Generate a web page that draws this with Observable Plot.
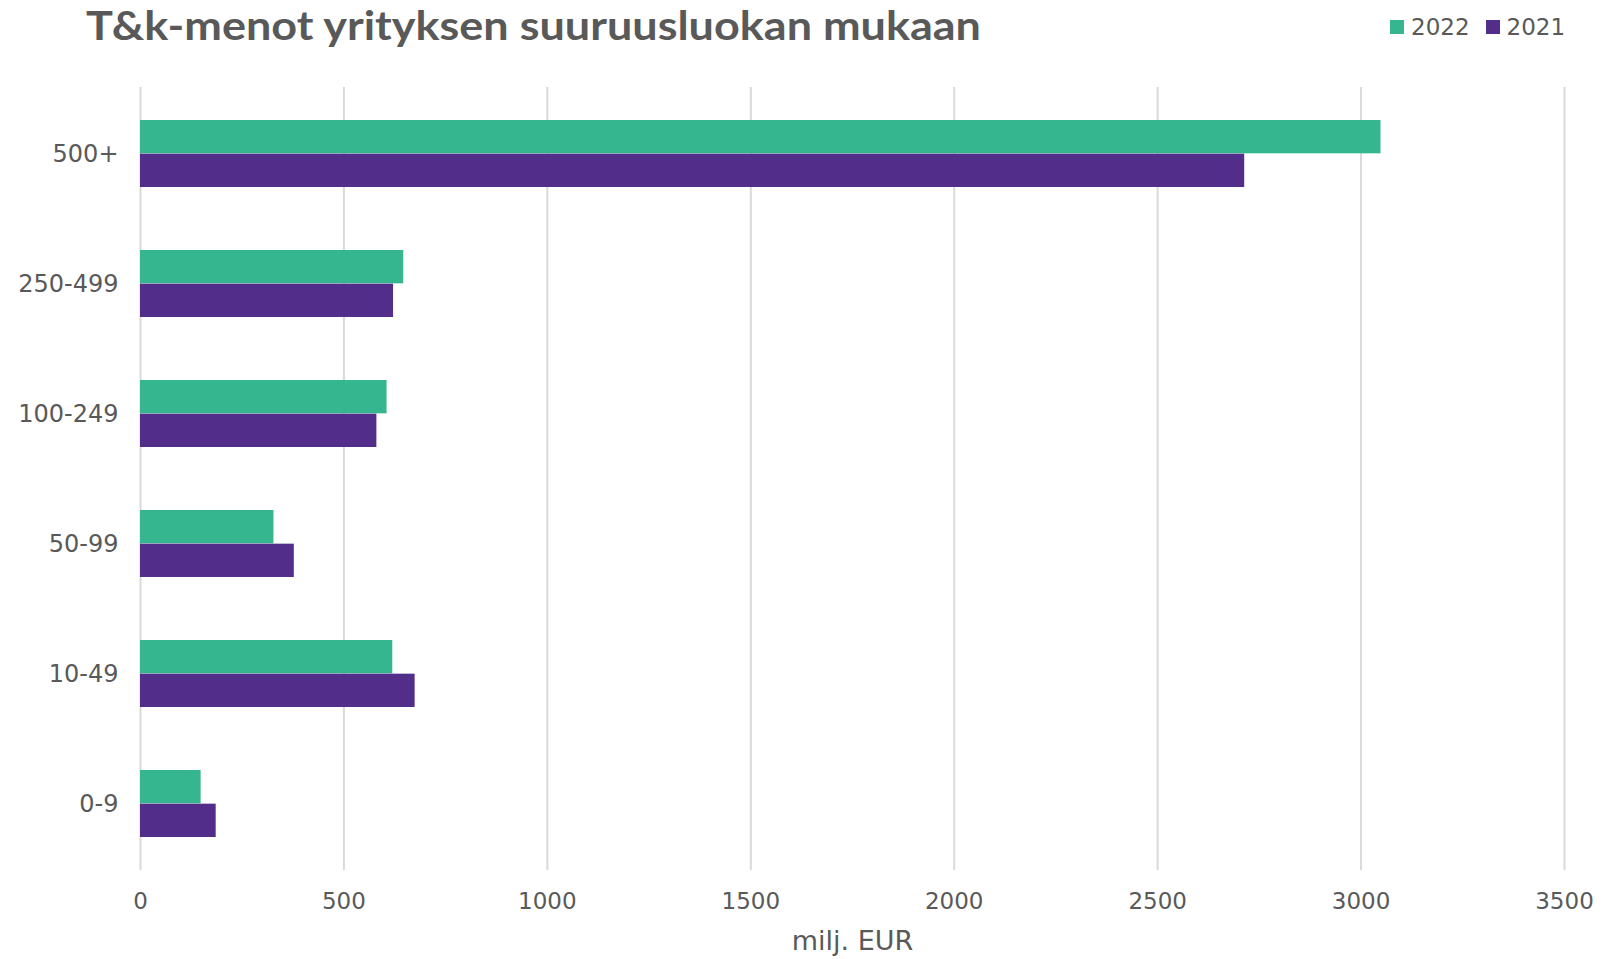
<!DOCTYPE html>
<html>
<head>
<meta charset="utf-8">
<script src="https://cdn.jsdelivr.net/npm/d3@7"></script>
<script src="https://cdn.jsdelivr.net/npm/@observablehq/plot@0.6"></script>
<style>
  html, body { margin: 0; padding: 0; background: #ffffff; }
  #wrap { width: 1602px; height: 959px; position: relative; overflow: hidden; }
  #header { width: 1602px; height: 60px; position: relative; }
  #legend { position: absolute; left: 1390px; top: 13px; display: flex; align-items: center;
            font-family: "DejaVu Sans", Verdana, sans-serif; font-size: 23px; color: #595959; line-height: 28px; }
  #legend .item { display: flex; align-items: center; margin-right: 16px; }
  #legend .sw { width: 14px; height: 14px; margin-right: 7px; display: inline-block; }
  #chart svg g[aria-label="y-axis tick label"] { font-size: 24px; }
  #chart svg g[aria-label="x-axis label"] { font-size: 27px; }
</style>
</head>
<body>
<div id="wrap">
  <div id="header">
    <svg id="titlesvg" width="1602" height="60" style="position:absolute;left:0;top:0">
      <text id="title" x="86" y="39.5" fill="#595959" font-family="Lato, 'Open Sans', sans-serif" font-weight="bold" font-size="40"
            textLength="895" lengthAdjust="spacingAndGlyphs">T&amp;k-menot yrityksen suuruusluokan mukaan</text>
    </svg>
    <div id="legend"></div>
  </div>
  <div id="chart"></div>
</div>
<script>
const categories = ["500+", "250-499", "100-249", "50-99", "10-49", "0-9"];
const years = ["2022", "2021"];
const values2022 = [3049, 647, 606, 328, 620, 149];
const values2021 = [2714, 622, 581, 378, 675, 186];
const xTicks = [0, 500, 1000, 1500, 2000, 2500, 3000, 3500];
const colors = ["#36b68f", "#532d8a"];

const rows2022 = categories.map((c, i) => ({category: c, year: years[0], value: values2022[i]}));
const rows2021 = categories.map((c, i) => ({category: c, year: years[1], value: values2021[i]}));

const H = 899, MT = 27, MB = 89;
const paddingInner = 0.484;
const step = (H - MT - MB) / categories.length;
const half = step * (1 - paddingInner) / 2;

const chart = Plot.plot({
  width: 1602,
  height: H,
  marginTop: MT,
  marginBottom: MB,
  marginLeft: 140,
  marginRight: 38,
  style: {fontFamily: "'DejaVu Sans', Verdana, sans-serif", fontSize: "23px", color: "#595959", background: "#ffffff"},
  x: {domain: [0, 3500], ticks: xTicks, tickFormat: d => String(d), tickSize: 0, tickPadding: 22, label: "milj. EUR",
      labelAnchor: "center", labelArrow: "none", labelOffset: 79},
  y: {domain: categories, paddingInner: paddingInner, paddingOuter: paddingInner / 2,
      tickSize: 0, tickPadding: 22, label: null},
  color: {domain: years, range: colors},
  marks: [
    Plot.ruleX(xTicks, {stroke: "#d9d9d9", strokeWidth: 2, strokeOpacity: 1}),
    Plot.barX(rows2022, {x: "value", y: "category", fill: "year", insetBottom: half}),
    Plot.barX(rows2021, {x: "value", y: "category", fill: "year", insetTop: half})
  ]
});
document.getElementById("chart").appendChild(chart);

const legend = document.getElementById("legend");
years.forEach((y, i) => {
  const item = document.createElement("span");
  item.className = "item";
  const sw = document.createElement("span");
  sw.className = "sw";
  sw.style.background = colors[i];
  item.appendChild(sw);
  item.appendChild(document.createTextNode(y));
  legend.appendChild(item);
});
</script>
</body>
</html>
